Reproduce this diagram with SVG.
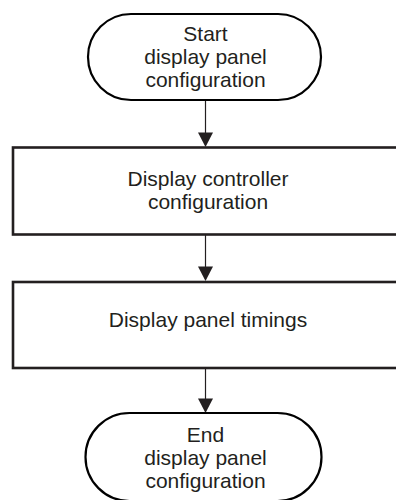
<svg xmlns="http://www.w3.org/2000/svg" width="396" height="500" viewBox="0 0 396 500">
<style>
.term{fill:#fff;stroke:#000;stroke-width:2.2}
.box{fill:#fff;stroke:#231f20;stroke-width:2.6}
.t{font-family:"Liberation Sans",Arial,sans-serif;font-size:21px;fill:#231f20;text-anchor:middle}
.c{stroke:#231f20;stroke-width:1.2;fill:none}
.h{fill:#231f20}
</style>
<rect width="396" height="500" fill="#fff"/>
<g id="connectors">
<line class="c" x1="205.5" y1="100" x2="205.5" y2="134"/>
<polygon class="h" points="198,132.5 213,132.5 205.5,147"/>
<line class="c" x1="205.5" y1="235" x2="205.5" y2="268"/>
<polygon class="h" points="198,266.5 213,266.5 205.5,281"/>
<line class="c" x1="205.5" y1="368" x2="205.5" y2="400"/>
<polygon class="h" points="198,398.5 213,398.5 205.5,413"/>
</g>
<g id="start">
<rect class="term" x="88" y="14" width="233" height="86" rx="43" ry="43"/>
<text class="t" x="205.5" y="41">Start</text>
<text class="t" x="205.5" y="64">display panel</text>
<text class="t" x="205.5" y="87">configuration</text>
</g>
<g id="controller">
<rect class="box" x="13" y="147.5" width="385" height="87"/>
<text class="t" x="208" y="186">Display controller</text>
<text class="t" x="208" y="209">configuration</text>
</g>
<g id="timings">
<rect class="box" x="13" y="282" width="385" height="86"/>
<text class="t" x="208" y="327">Display panel timings</text>
</g>
<g id="end">
<rect class="term" x="85.5" y="413" width="236" height="88" rx="44" ry="44"/>
<text class="t" x="205.5" y="442">End</text>
<text class="t" x="205.5" y="465">display panel</text>
<text class="t" x="205.5" y="488">configuration</text>
</g>
</svg>
